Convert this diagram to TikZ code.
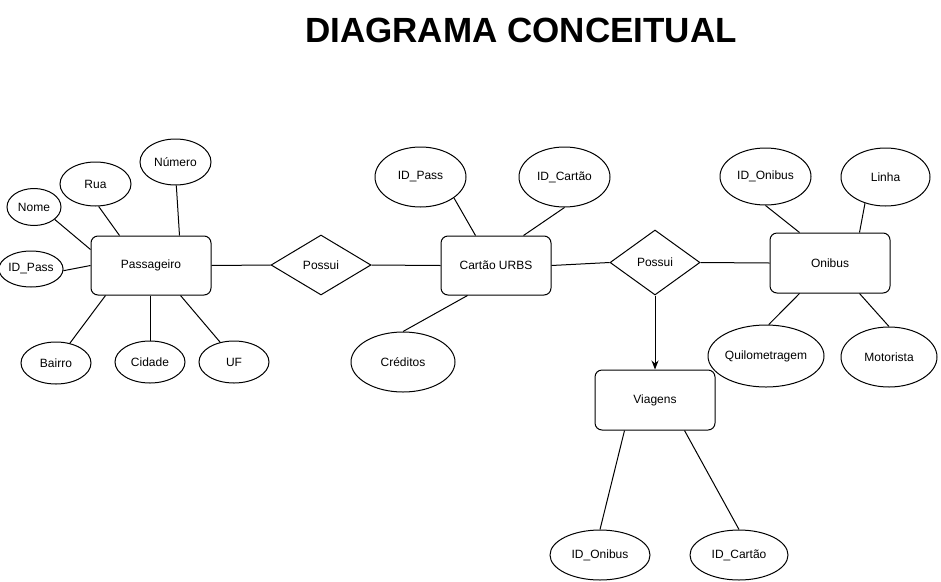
\documentclass[tikz,border=0pt]{standalone}
\usepackage{fontspec}
\setmainfont{Liberation Sans}
\usetikzlibrary{shapes.geometric,arrows.meta,calc}
\tikzset{
  ent/.style={draw, rounded corners=7pt, line width=1pt, inner sep=0pt, minimum width=#1, minimum height=59pt, font=\fontsize{12}{14}\selectfont},
  ent/.default=120pt,
  attr/.style n args={2}{draw, ellipse, line width=1pt, inner sep=0pt, minimum width=#1, minimum height=#2, font=\fontsize{12}{14}\selectfont},
  rel/.style n args={2}{draw, diamond, line width=1pt, inner sep=0pt, minimum width=#1, minimum height=#2, font=\fontsize{12}{14}\selectfont},
  conn/.style={line width=1pt},
}
\begin{document}
\begin{tikzpicture}[x=1pt,y=-1pt]
\useasboundingbox (0,0) rectangle (941,581);
\node[font=\fontsize{35}{40}\selectfont\bfseries] (title) at (521,30) {DIAGRAMA CONCEITUAL};

% entities
\node[ent=120pt] (pass) at (151,265.5) {Passageiro};
\node[ent=110pt] (cart) at (496,265.5) {Cartão URBS};
\node[ent=120pt, minimum height=60pt] (oni) at (830,263) {Onibus};
\node[ent=120pt, minimum height=60pt] (via) at (655,400) {Viagens};

% relationships
\node[rel={100pt}{60pt}] (pos1) at (321,265) {Possui};
\node[rel={90pt}{65pt}] (pos2) at (655,262.5) {Possui};

% attributes of Passageiro
\node[attr={54pt}{37pt}] (nome) at (34,207) {Nome};
\node[attr={71pt}{44pt}] (rua) at (95.5,184) {Rua};
\node[attr={71pt}{46pt}] (num) at (175.5,162) {Número};
\node[attr={60pt}{36pt}] (idp1) at (31,269) {ID\_Pass};
\node[attr={70pt}{42pt}] (bai) at (56,363) {Bairro};
\node[attr={70pt}{42pt}] (cid) at (150,362) {Cidade};
\node[attr={70pt}{42pt}] (uf) at (234,362) {UF};

% attributes of Cartão URBS
\node[attr={91pt}{60pt}] (idp2) at (420.5,177) {ID\_Pass};
\node[attr={91pt}{60pt}] (idc) at (564.5,177) {ID\_Cartão};
\node[attr={104pt}{60pt}] (cred) at (403,362) {Créditos};

% attributes of Onibus
\node[attr={91pt}{57pt}] (ido1) at (765.5,176.5) {ID\_Onibus};
\node[attr={89pt}{58pt}] (lin) at (885.5,177) {Linha};
\node[attr={94pt}{62pt}] (qui) at (766,356) {Quilometragem};
\node[attr={96pt}{60pt}] (mot) at (889,357) {Motorista};

% attributes of Viagens
\node[attr={100pt}{50pt}] (ido2) at (600,555) {ID\_Onibus};
\node[attr={98pt}{50pt}] (idc2) at (739,555) {ID\_Cartão};

% connectors Passageiro
\draw[conn] (nome.-31) -- ($(pass.north west)+(0,14)$);
\draw[conn] (rua.-82) -- ($(pass.north west)+(29,0)$);
\draw[conn] (num.-88) -- ($(pass.north west)+(89,0)$);
\draw[conn] (idp1.-3) -- (pass.west);
\draw[conn] (bai.55) -- ($(pass.south west)+(15,0)$);
\draw[conn] (cid.north) -- (cid.north |- pass.south);
\draw[conn] (uf.125) -- ($(pass.south west)+(90,0)$);
\draw[conn] (pass.east) -- (pos1.west);
\draw[conn] (pos1.east) -- (cart.west);

% connectors Cartão
\draw[conn] (idp2.-32) -- ($(cart.north west)+(35,0)$);
\draw[conn] (idc.south) -- ($(cart.north west)+(83,0)$);
\draw[conn] (cred.north) -- ($(cart.south west)+(27,0)$);
\draw[conn] (cart.east) -- (pos2.west);

% connectors Onibus
\draw[conn] (pos2.east) -- (oni.west);
\draw[conn] (ido1.south) -- ($(oni.north west)+(30,0)$);
\draw[conn] (lin.-128) -- ($(oni.north west)+(90,0)$);
\draw[conn] (qui.85) -- ($(oni.south west)+(30,0)$);
\draw[conn] (mot.north) -- ($(oni.south west)+(90,0)$);

% Viagens
\draw[conn, -{Stealth[length=9pt,width=7pt]}] (pos2.south) -- (via.north);
\draw[conn] (ido2.north) -- ($(via.south west)+(30,0)$);
\draw[conn] (idc2.north) -- ($(via.south west)+(90,0)$);
\end{tikzpicture}
\end{document}
